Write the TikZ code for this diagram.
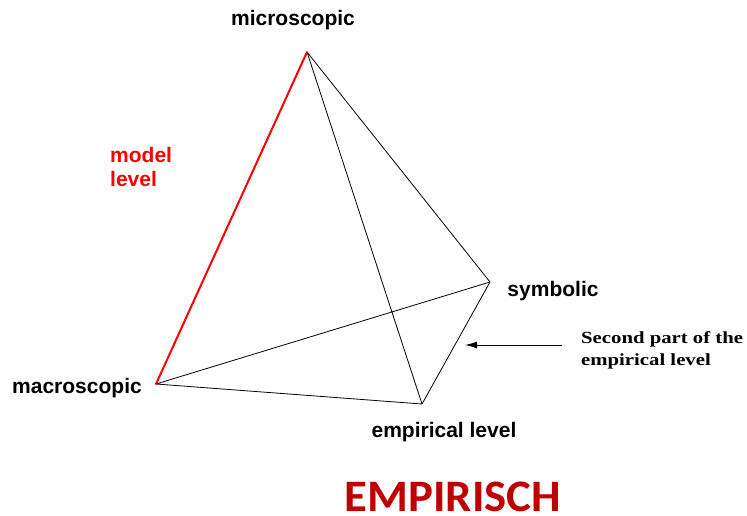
\documentclass[tikz,border=0pt]{standalone}
\usepackage{fontspec}
\usepackage{graphicx}
\setmainfont{Liberation Sans}
\newfontfamily\timesfont{Liberation Serif}
\newfontfamily\calibrifont{Carlito}
\usetikzlibrary{arrows.meta, positioning}
\definecolor{empRed}{HTML}{C00000}

\begin{document}
\begin{tikzpicture}[
        x = 1pt, y = -1pt,
        >= {Latex[length = 12pt, width = 7pt]},
        corner/.style = {font = \fontsize{21}{24}\selectfont\bfseries, inner sep = 0pt},
        edgeLine/.style = {draw = black, line width = 0.8pt},
        modelLine/.style = {draw = red, line width = 2pt}
    ]
        \useasboundingbox (0,0) rectangle (747,515);

        % corners of the tetrahedron
        \coordinate (micro) at (307,52);
        \coordinate (macro) at (156,384);
        \coordinate (symb) at (490,282);
        \coordinate (emp) at (422,404);

        \node[corner] (microLabel) at (293,20) {microscopic};
        \node[corner] (macroLabel) at (77,388) {macroscopic};
        \node[corner] (symbLabel) at (553,291) {symbolic};
        \node[corner] (empLabel) at (444,432) {empirical level};
        \node[corner, text = red, align = left, anchor = west] (modelLabel) at (110,167) {model\\level};

        \path[edgeLine]
          (micro) -- (symb)
          (micro) -- (emp)
          (macro) -- (symb)
          (macro) -- (emp)
          (symb) -- (emp);
        \path[modelLine, line cap = round] (micro) -- (macro);

        % note on the right
        \coordinate (arrowTail) at (562,345);
        \coordinate (arrowHead) at (465,345);
        \draw[->, line width = 1pt] (arrowTail) -- (arrowHead);
        \node[anchor = west, align = left, inner sep = 0pt,
              font = \timesfont\bfseries\fontsize{17}{22}\selectfont] (note) at (581,350)
              {\scalebox{1.22}[1]{Second part of the}\\\scalebox{1.22}[1]{empirical level}};

        \node[font = \calibrifont\bfseries\fontsize{45}{50}\selectfont, text = empRed,
              inner sep = 0pt, anchor = base] (title) at (453,511) {\scalebox{1.04}[1]{EMPIRISCH}};
    \end{tikzpicture}
\end{document}
